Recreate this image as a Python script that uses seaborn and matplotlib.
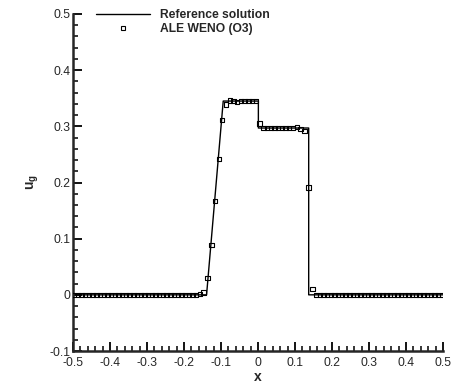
import numpy as np
import pandas as pd
import matplotlib
matplotlib.use("Agg")
import matplotlib.pyplot as plt
from matplotlib.lines import Line2D
import seaborn as sns

# Exact (reference) solution: gas velocity profile
ref_x = [-0.5, -0.139, -0.094, 0.001, 0.001, 0.137, 0.137, 0.5]
ref_u = [0.0, 0.0, 0.345, 0.345, 0.297, 0.297, 0.0, 0.0]

# ALE WENO (O3) cell values
weno_x = [
    -0.497, -0.487, -0.477, -0.467, -0.457, -0.447, -0.437, -0.427, -0.417, -0.407,
    -0.397, -0.387, -0.377, -0.367, -0.357, -0.347, -0.337, -0.327, -0.317, -0.307,
    -0.297, -0.287, -0.277, -0.267, -0.257, -0.247, -0.237, -0.227, -0.217, -0.207,
    -0.197, -0.187, -0.177, -0.167, -0.157, -0.147, -0.137, -0.126, -0.116, -0.106,
    -0.0965, -0.0865, -0.076, -0.066, -0.056, -0.046, -0.036, -0.026, -0.016, -0.006,
    0.0045, 0.0145, 0.0245, 0.0345, 0.0445, 0.0545, 0.0645, 0.0745, 0.0845, 0.0945,
    0.105, 0.115, 0.126, 0.137, 0.147, 0.157, 0.167, 0.177, 0.187, 0.197,
    0.207, 0.217, 0.227, 0.237, 0.247, 0.257, 0.267, 0.277, 0.287, 0.297,
    0.307, 0.317, 0.327, 0.337, 0.347, 0.357, 0.367, 0.377, 0.387, 0.397,
    0.407, 0.417, 0.427, 0.437, 0.447, 0.457, 0.467, 0.477, 0.487, 0.497,
]
weno_u = [
    0.0, 0.0, 0.0, 0.0, 0.0, 0.0, 0.0, 0.0, 0.0, 0.0,
    0.0, 0.0, 0.0, 0.0, 0.0, 0.0, 0.0, 0.0, 0.0, 0.0,
    0.0, 0.0, 0.0, 0.0, 0.0, 0.0, 0.0, 0.0, 0.0, 0.0,
    0.0, 0.0, 0.0, 0.0, 0.001, 0.004, 0.030, 0.089, 0.167, 0.242,
    0.311, 0.339, 0.346, 0.345, 0.343, 0.345, 0.345, 0.345, 0.345, 0.345,
    0.305, 0.297, 0.297, 0.297, 0.297, 0.297, 0.297, 0.297, 0.297, 0.297,
    0.299, 0.295, 0.292, 0.191, 0.010, 0.0, 0.0, 0.0, 0.0, 0.0,
    0.0, 0.0, 0.0, 0.0, 0.0, 0.0, 0.0, 0.0, 0.0, 0.0,
    0.0, 0.0, 0.0, 0.0, 0.0, 0.0, 0.0, 0.0, 0.0, 0.0,
    0.0, 0.0, 0.0, 0.0, 0.0, 0.0, 0.0, 0.0, 0.0, 0.0,
]

x_ticks = [-0.5, -0.4, -0.3, -0.2, -0.1, 0, 0.1, 0.2, 0.3, 0.4, 0.5]
x_labels = ["-0.5", "-0.4", "-0.3", "-0.2", "-0.1", "0", "0.1", "0.2", "0.3", "0.4", "0.5"]
y_ticks = [-0.1, 0, 0.1, 0.2, 0.3, 0.4, 0.5]
y_labels = ["-0.1", "0", "0.1", "0.2", "0.3", "0.4", "0.5"]

sns.set_style("ticks")
plt.rcParams["font.family"] = ["Liberation Sans", "DejaVu Sans"]

ref_df = pd.DataFrame({"x": ref_x, "u": ref_u})
num_df = pd.DataFrame({"x": weno_x, "u": weno_u})

fig = plt.figure(figsize=(4.54, 3.85), dpi=100)
ax = fig.add_axes([73 / 454, 34 / 385, 370 / 454, 337 / 385])

sns.lineplot(data=ref_df, x="x", y="u", sort=False, estimator=None,
             color="black", linewidth=1.0, ax=ax, zorder=2)
sns.scatterplot(data=num_df, x="x", y="u", marker="s", s=10,
                facecolor="none", edgecolor="black", linewidth=0.8,
                ax=ax, zorder=3)

ax.set_xlim(-0.5, 0.5)
ax.set_ylim(-0.1, 0.5)
ax.set_xticks(x_ticks)
ax.set_xticklabels(x_labels)
ax.set_yticks(y_ticks)
ax.set_yticklabels(y_labels)
ax.set_xticks(np.arange(-0.5, 0.501, 0.02), minor=True)
ax.set_yticks(np.arange(-0.1, 0.501, 0.02), minor=True)

for side in ("top", "right"):
    ax.spines[side].set_visible(False)
for side in ("left", "bottom"):
    ax.spines[side].set_linewidth(1.8)
ax.tick_params(which="major", direction="in", length=6.5, width=1.3,
               labelsize=8.7, pad=2, color="black")
ax.tick_params(which="minor", direction="in", length=3.5, width=1.1,
               color="black")
ax.tick_params(axis="x", pad=4)

ax.set_xlabel("x", fontsize=10, fontweight="bold", labelpad=1)
ax.set_ylabel(r"u$_{\mathregular{g}}$", fontsize=10, fontweight="bold", labelpad=6)

handles = [
    Line2D([0], [0], color="black", linewidth=1.0),
    Line2D([0], [0], marker="s", linestyle="none", markersize=3.5,
           markerfacecolor="none", markeredgecolor="black", markeredgewidth=0.8),
]
ax.legend(handles, ["Reference solution", "ALE WENO (O3)"],
          loc="upper left", bbox_to_anchor=(96 / 454, 1 - 9 / 385),
          bbox_transform=fig.transFigure, frameon=False,
          prop={"size": 8.7, "weight": "bold"}, handlelength=4.5,
          handletextpad=0.8, labelspacing=0.18, borderpad=0, borderaxespad=0)

fig.savefig("out.png", dpi=100)
